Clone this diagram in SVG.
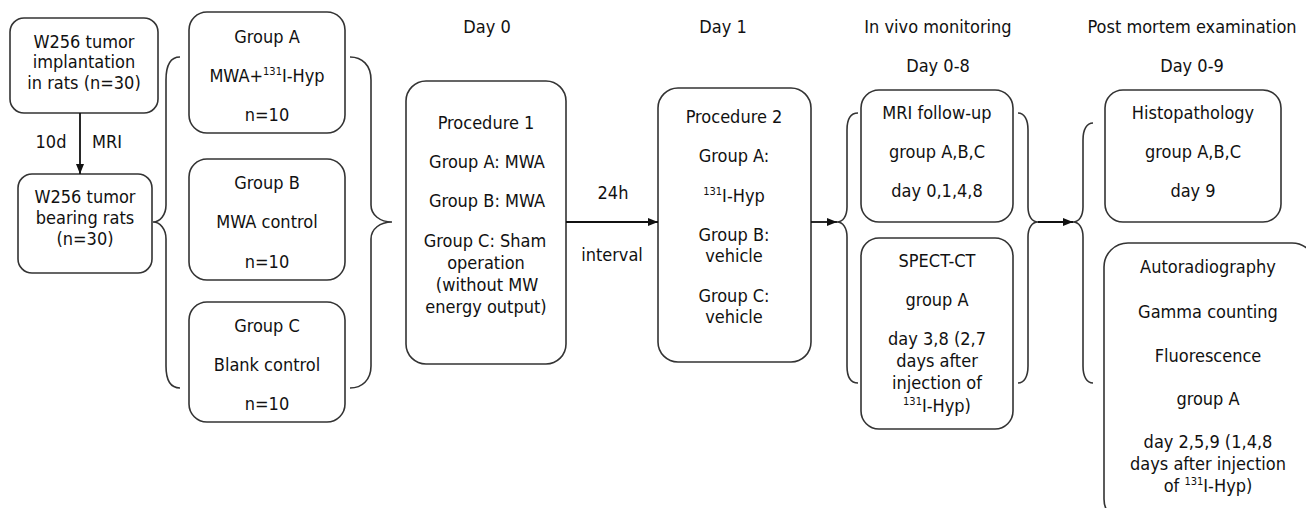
<svg xmlns="http://www.w3.org/2000/svg" width="1306" height="508" viewBox="0 0 1306 508">
<style>
.box{fill:#fff;stroke:#333;stroke-width:1.6}
.br{fill:none;stroke:#333;stroke-width:1.6}
.ln{fill:none;stroke:#111;stroke-width:1.8}
text{font-family:"DejaVu Sans Condensed","Liberation Sans",sans-serif;font-size:18px;fill:#111;text-anchor:middle}
.sup{font-size:11px}
</style>
<defs>
<marker id="ah" viewBox="0 0 10 10" refX="10" refY="5" markerWidth="10" markerHeight="10" markerUnits="userSpaceOnUse" orient="auto">
<path d="M0,1 L10,5 L0,9 Z" fill="#111"/>
</marker>
</defs>
<rect width="1306" height="508" fill="#fff"/>

<g id="headers">
<text x="487" y="33">Day 0</text>
<text x="723" y="33">Day 1</text>
<text x="938" y="33">In vivo monitoring</text>
<text x="938" y="72">Day 0-8</text>
<text x="1192" y="33">Post mortem examination</text>
<text x="1192" y="72">Day 0-9</text>
</g>

<g id="implantation">
<rect class="box" x="10" y="18" width="148" height="95" rx="14"/>
<text x="84" y="48">W256 tumor</text>
<text x="84" y="68">implantation</text>
<text x="84" y="89">in rats (n=30)</text>
</g>

<g id="bearing">
<rect class="box" x="18" y="174" width="134" height="99" rx="14"/>
<text x="85" y="203">W256 tumor</text>
<text x="85" y="224">bearing rats</text>
<text x="85" y="245">(n=30)</text>
</g>

<g id="groupA">
<rect class="box" x="189" y="12" width="156" height="121" rx="18"/>
<text x="267" y="43">Group A</text>
<text x="267" y="82">MWA+<tspan class="sup" dy="-7">131</tspan><tspan dy="7">I-Hyp</tspan></text>
<text x="267" y="121">n=10</text>
</g>

<g id="groupB">
<rect class="box" x="189" y="159" width="156" height="121" rx="18"/>
<text x="267" y="189">Group B</text>
<text x="267" y="228">MWA control</text>
<text x="267" y="268">n=10</text>
</g>

<g id="groupC">
<rect class="box" x="189" y="302" width="156" height="120" rx="18"/>
<text x="267" y="332">Group C</text>
<text x="267" y="371">Blank control</text>
<text x="267" y="410">n=10</text>
</g>

<g id="procedure1">
<rect class="box" x="406" y="81" width="160" height="283" rx="20"/>
<text x="486" y="129">Procedure 1</text>
<text x="487" y="168">Group A: MWA</text>
<text x="487" y="207">Group B: MWA</text>
<text x="485" y="247">Group C: Sham</text>
<text x="486" y="269">operation</text>
<text x="487" y="291">(without MW</text>
<text x="486" y="313">energy output)</text>
</g>

<g id="procedure2">
<rect class="box" x="658" y="88" width="153" height="274" rx="20"/>
<text x="734" y="123">Procedure 2</text>
<text x="734" y="162">Group A:</text>
<text x="734" y="202"><tspan class="sup" dy="-7">131</tspan><tspan dy="7">I-Hyp</tspan></text>
<text x="734" y="241">Group B:</text>
<text x="734" y="262">vehicle</text>
<text x="734" y="302">Group C:</text>
<text x="734" y="323">vehicle</text>
</g>

<g id="mri">
<rect class="box" x="861" y="90" width="152" height="132" rx="18"/>
<text x="937" y="119">MRI follow-up</text>
<text x="937" y="158">group A,B,C</text>
<text x="937" y="197">day 0,1,4,8</text>
</g>

<g id="spect">
<rect class="box" x="861" y="238" width="152" height="191" rx="18"/>
<text x="937" y="267">SPECT-CT</text>
<text x="937" y="306">group A</text>
<text x="937" y="345">day 3,8 (2,7</text>
<text x="937" y="367">days after</text>
<text x="937" y="389">injection of</text>
<text x="937" y="412"><tspan class="sup" dy="-7">131</tspan><tspan dy="7">I-Hyp)</tspan></text>
</g>

<g id="histo">
<rect class="box" x="1105" y="90" width="176" height="132" rx="18"/>
<text x="1193" y="119">Histopathology</text>
<text x="1193" y="158">group A,B,C</text>
<text x="1193" y="197">day 9</text>
</g>

<g id="autorad">
<rect class="box" x="1104" y="243" width="212" height="280" rx="24"/>
<text x="1208" y="273">Autoradiography</text>
<text x="1208" y="318">Gamma counting</text>
<text x="1208" y="362">Fluorescence</text>
<text x="1208" y="405">group A</text>
<text x="1208" y="448">day 2,5,9 (1,4,8</text>
<text x="1208" y="470">days after injection</text>
<text x="1208" y="492">of <tspan class="sup" dy="-7">131</tspan><tspan dy="7">I-Hyp)</tspan></text>
</g>

<g id="connectors">
<line class="ln" x1="80" y1="113" x2="80" y2="174" marker-end="url(#ah)"/>
<text x="51" y="148">10d</text>
<text x="107" y="148">MRI</text>
<path class="br" d="M180,57 C170,57 166,65 166,80 L166,205 C166,215 160,222 153,222 C160,222 166,229 166,239 L166,366 C166,380 170,388 180,388"/>
<path class="br" d="M350,57 C362,57 371,65 371,80 L371,205 C371,215 380,222 392,222 C380,222 371,229 371,239 L371,366 C371,380 362,388 350,388"/>
<line class="ln" x1="566" y1="222" x2="658" y2="222" marker-end="url(#ah)"/>
<text x="613" y="199">24h</text>
<text x="612" y="261">interval</text>
<line class="ln" x1="811" y1="222" x2="837" y2="222" marker-end="url(#ah)"/>
<path class="br" d="M858,113 C851,113 847,119 847,130 L847,207 C847,216 843,222 837,222 C843,222 847,228 847,237 L847,366 C847,377 851,383 858,383"/>
<path class="br" d="M1018,113 C1024,113 1028,119 1028,130 L1028,207 C1028,216 1032,222 1038,222 C1032,222 1028,228 1028,237 L1028,366 C1028,377 1024,383 1018,383"/>
<line class="ln" x1="1038" y1="222" x2="1073" y2="222" marker-end="url(#ah)"/>
<path class="br" d="M1093,123 C1087,123 1083,129 1083,140 L1083,207 C1083,216 1079,222 1073,222 C1079,222 1083,228 1083,237 L1083,366 C1083,377 1087,383 1093,383"/>
</g>
</svg>
